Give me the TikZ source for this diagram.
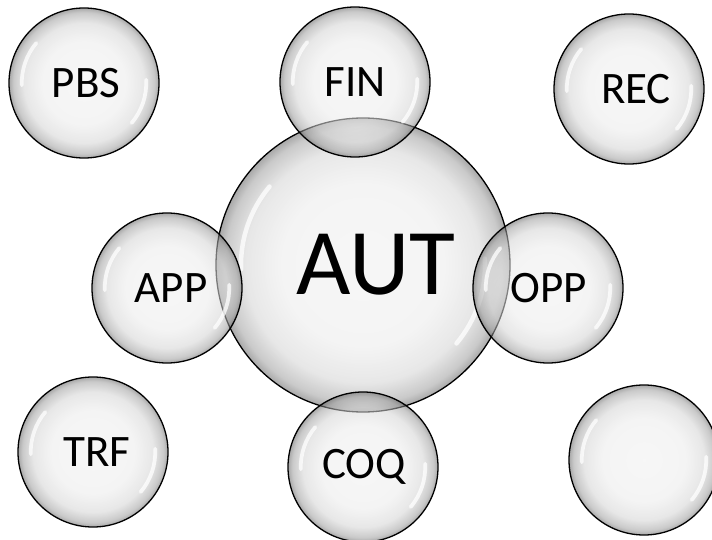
\documentclass[tikz,border=0pt]{standalone}
\usepackage{fontspec}
\setmainfont{Carlito}

\pgfdeclareradialshading{bubbleshade}{\pgfpoint{0bp}{0bp}}{%
  color(0bp)=(black!6); color(14bp)=(black!8); color(20bp)=(black!17);
  color(23.5bp)=(black!38); color(25bp)=(black!62); color(50bp)=(black!62)}

\tikzset{
  bubble/.style={circle, draw=black, line width=1.3pt, shade, shading=bubbleshade,
    fill opacity=0.55, inner sep=0pt},
  shine/.style={white, line cap=round, opacity=0.75},
}

\begin{document}
\begin{tikzpicture}[x=1pt,y=1pt]
  \useasboundingbox (0,0) rectangle (712,-540);

  %%%%%%%%%%%%%%%%%%%%%%%%%%%%%%%%%%%%%%%%%%%%%%%%%%%%%%%%%%%%%%%%%%%%%%%%%%%
  %%%%  Bubbles (big one first, the others lie over it)
  \foreach \name/\x/\y/\r/\dx/\fs/\txt in
    {aut/363/265/147/13/94/AUT,
     pbs/84/83/75/2/45/PBS, fin/355/82/75/0/45/FIN, rec/629/89/75/7/45/REC,
     app/167/288/75/4/45/APP, opp/548/288/75/1/45/OPP,
     trf/93/452/75/4/45/TRF, coq/363/467/75/1/45/COQ, blank/644/460/75/0/45/{}}
  {\node[bubble, minimum size=2*\r] (\name) at (\x,-\y) {};

    \pgfmathsetmacro\hr{0.83*\r}
    \draw[shine, line width={min(0.05*\r,4.5)}] (\name.center) ++(140:\hr) arc (140:182:\hr);
    \draw[shine, line width={min(0.05*\r,4.5)}] (\name.center) ++(-40:\hr) arc (-40:3:\hr);

    \node[font=\fontsize{\fs}{\fs}\selectfont] (\name-txt)
      at ([xshift=\dx]\name.center) {\txt};
  };
\end{tikzpicture}
\end{document}
